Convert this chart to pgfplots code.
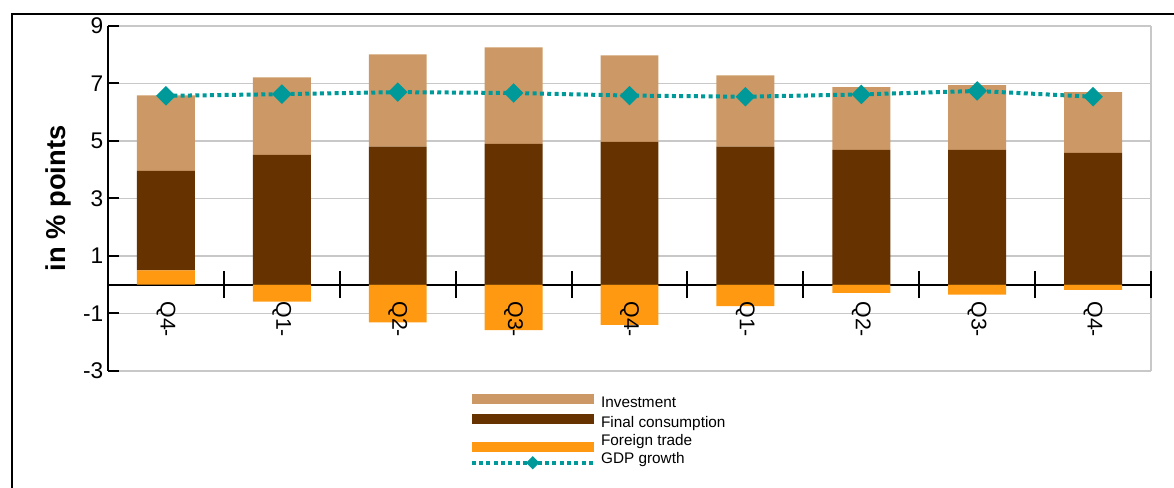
\documentclass[border=0pt]{standalone}
\usepackage{pgfplots}
\usepackage{pgfplotstable}
\pgfplotsset{compat=1.18}
\usepackage{fontspec}
\setmainfont{Liberation Sans}
\definecolor{invcol}{RGB}{204,153,102}
\definecolor{conscol}{RGB}{102,51,0}
\definecolor{tradecol}{RGB}{255,153,17}
\definecolor{gdpcol}{RGB}{0,153,153}
\definecolor{gridcol}{RGB}{200,200,200}
\pgfplotstableread{
x trade cons inv gdp
0 0.50 3.46 2.63 6.57
1 -0.59 4.52 2.69 6.63
2 -1.31 4.80 3.21 6.70
3 -1.58 4.90 3.36 6.67
4 -1.40 4.97 3.01 6.58
5 -0.74 4.80 2.48 6.54
6 -0.28 4.69 2.18 6.62
7 -0.34 4.69 2.25 6.74
8 -0.18 4.59 2.11 6.54
}\datatable
\begin{document}
\begin{tikzpicture}
\useasboundingbox (0,0) rectangle (880.5pt,366pt);
\pgfplotsset{
  common/.style={
    at={(81pt,87.75pt)}, anchor=south west,
    scale only axis, width=782.25pt, height=258.75pt,
    xmin=-0.5, xmax=8.5, ymin=-3, ymax=9,
  }
}
\begin{axis}[
  common,
  ybar stacked, stack negative=separate, bar width=0.5,
  axis x line=middle, axis y line=left,
  axis line style={-, black, line width=1.5pt},
  x axis line style={draw=none},
  xtick=\empty,
  ytick={-3,-1,1,3,5,7,9},
  yticklabels={-3,-1,1,3,5,7,9},
  yticklabel style={font=\fontsize{17}{20}\selectfont},
  ytick align=inside,
  y tick style={black, line width=1.5pt},
  major tick length=8.25pt,
  ymajorgrids,
  major grid style={gridcol, line width=1.2pt},
  extra y ticks={0},
  extra y tick labels={},
  extra y tick style={grid=major, major grid style={black, line width=1.5pt}, major tick length=0pt},
  ylabel={\textbf{in \% points}},
  every axis y label/.style={at={(rel axis cs:0,0.5)}, xshift=-37pt, rotate=90, anchor=center, font=\fontsize{20.5}{24}\selectfont},
  clip=false,
]
\addplot[fill=tradecol, draw=none] table[x=x, y=trade] {\datatable};
\addplot[fill=conscol, draw=none] table[x=x, y=cons] {\datatable};
\addplot[fill=invcol, draw=none] table[x=x, y=inv] {\datatable};
\draw[gridcol, line width=1.2pt] (rel axis cs:1,0) -- (rel axis cs:1,1);
\end{axis}
\begin{axis}[
  common,
  axis x line=middle, axis y line=none,
  x axis line style={draw=none},
  xtick={0,...,8},
  xticklabels={Q4-,Q1-,Q2-,Q3-,Q4-,Q1-,Q2-,Q3-,Q4-},
  major tick length=0pt,
  xtick align=center,
  x tick style={black, line width=1.5pt},
  extra x ticks={0.5,1.5,...,8.5},
  extra x tick labels={},
  extra x tick style={major tick length=20pt, xtick align=center, major tick style={black, line width=1.5pt}},
  xticklabel style={rotate=-90, anchor=west, font=\fontsize{16}{19}\selectfont},
  xticklabel shift=9pt,
  legend style={at={(rel axis cs:0.3485,-0.067)}, anchor=north west, draw=none, fill=none,
    font=\fontsize{11.5}{13}\selectfont, inner sep=0pt,
    nodes={inner sep=0pt, text height=8.5pt, text depth=2pt},
    row sep=3pt, column sep=5.5pt},
  legend cell align=left,
]
\addplot[gdpcol, line width=3pt, dash pattern=on 3pt off 2.5pt, mark=square*, mark size=3.7pt, mark options={solid, rotate=45, fill=gdpcol}, forget plot] table[x=x, y=gdp] {\datatable};
\addlegendimage{legend image code/.code={\fill[invcol, draw=none] (0pt,-1pt) rectangle (91.5pt,6.5pt);}}
\addlegendentry{Investment}
\addlegendimage{legend image code/.code={\fill[conscol, draw=none] (0pt,-1pt) rectangle (91.5pt,6.5pt);}}
\addlegendentry{Final consumption}
\addlegendimage{legend image code/.code={\path[draw=none, fill=none] (0pt,0pt) rectangle (91.5pt,1pt); \fill[tradecol, draw=none, overlay] (0pt,-8.5pt) rectangle (91.5pt,-1pt);}}
\addlegendentry{Foreign trade}
\addlegendimage{legend image code/.code={\path[draw=none, fill=none] (0pt,0pt) rectangle (91.5pt,1pt); \draw[gdpcol, overlay, line width=3pt, dash pattern=on 3pt off 2.5pt] (0pt,-3pt) -- (91.5pt,-3pt); \fill[gdpcol, draw=none, overlay] (45.75pt,-3pt) +(0,5pt) -- +(5pt,0) -- +(0,-5pt) -- +(-5pt,0) -- cycle;}}
\addlegendentry{GDP growth}
\end{axis}
\draw[line width=1pt] (9pt,0) -- (9pt,355.5pt) -- (880.5pt,355.5pt);
\end{tikzpicture}
\end{document}
